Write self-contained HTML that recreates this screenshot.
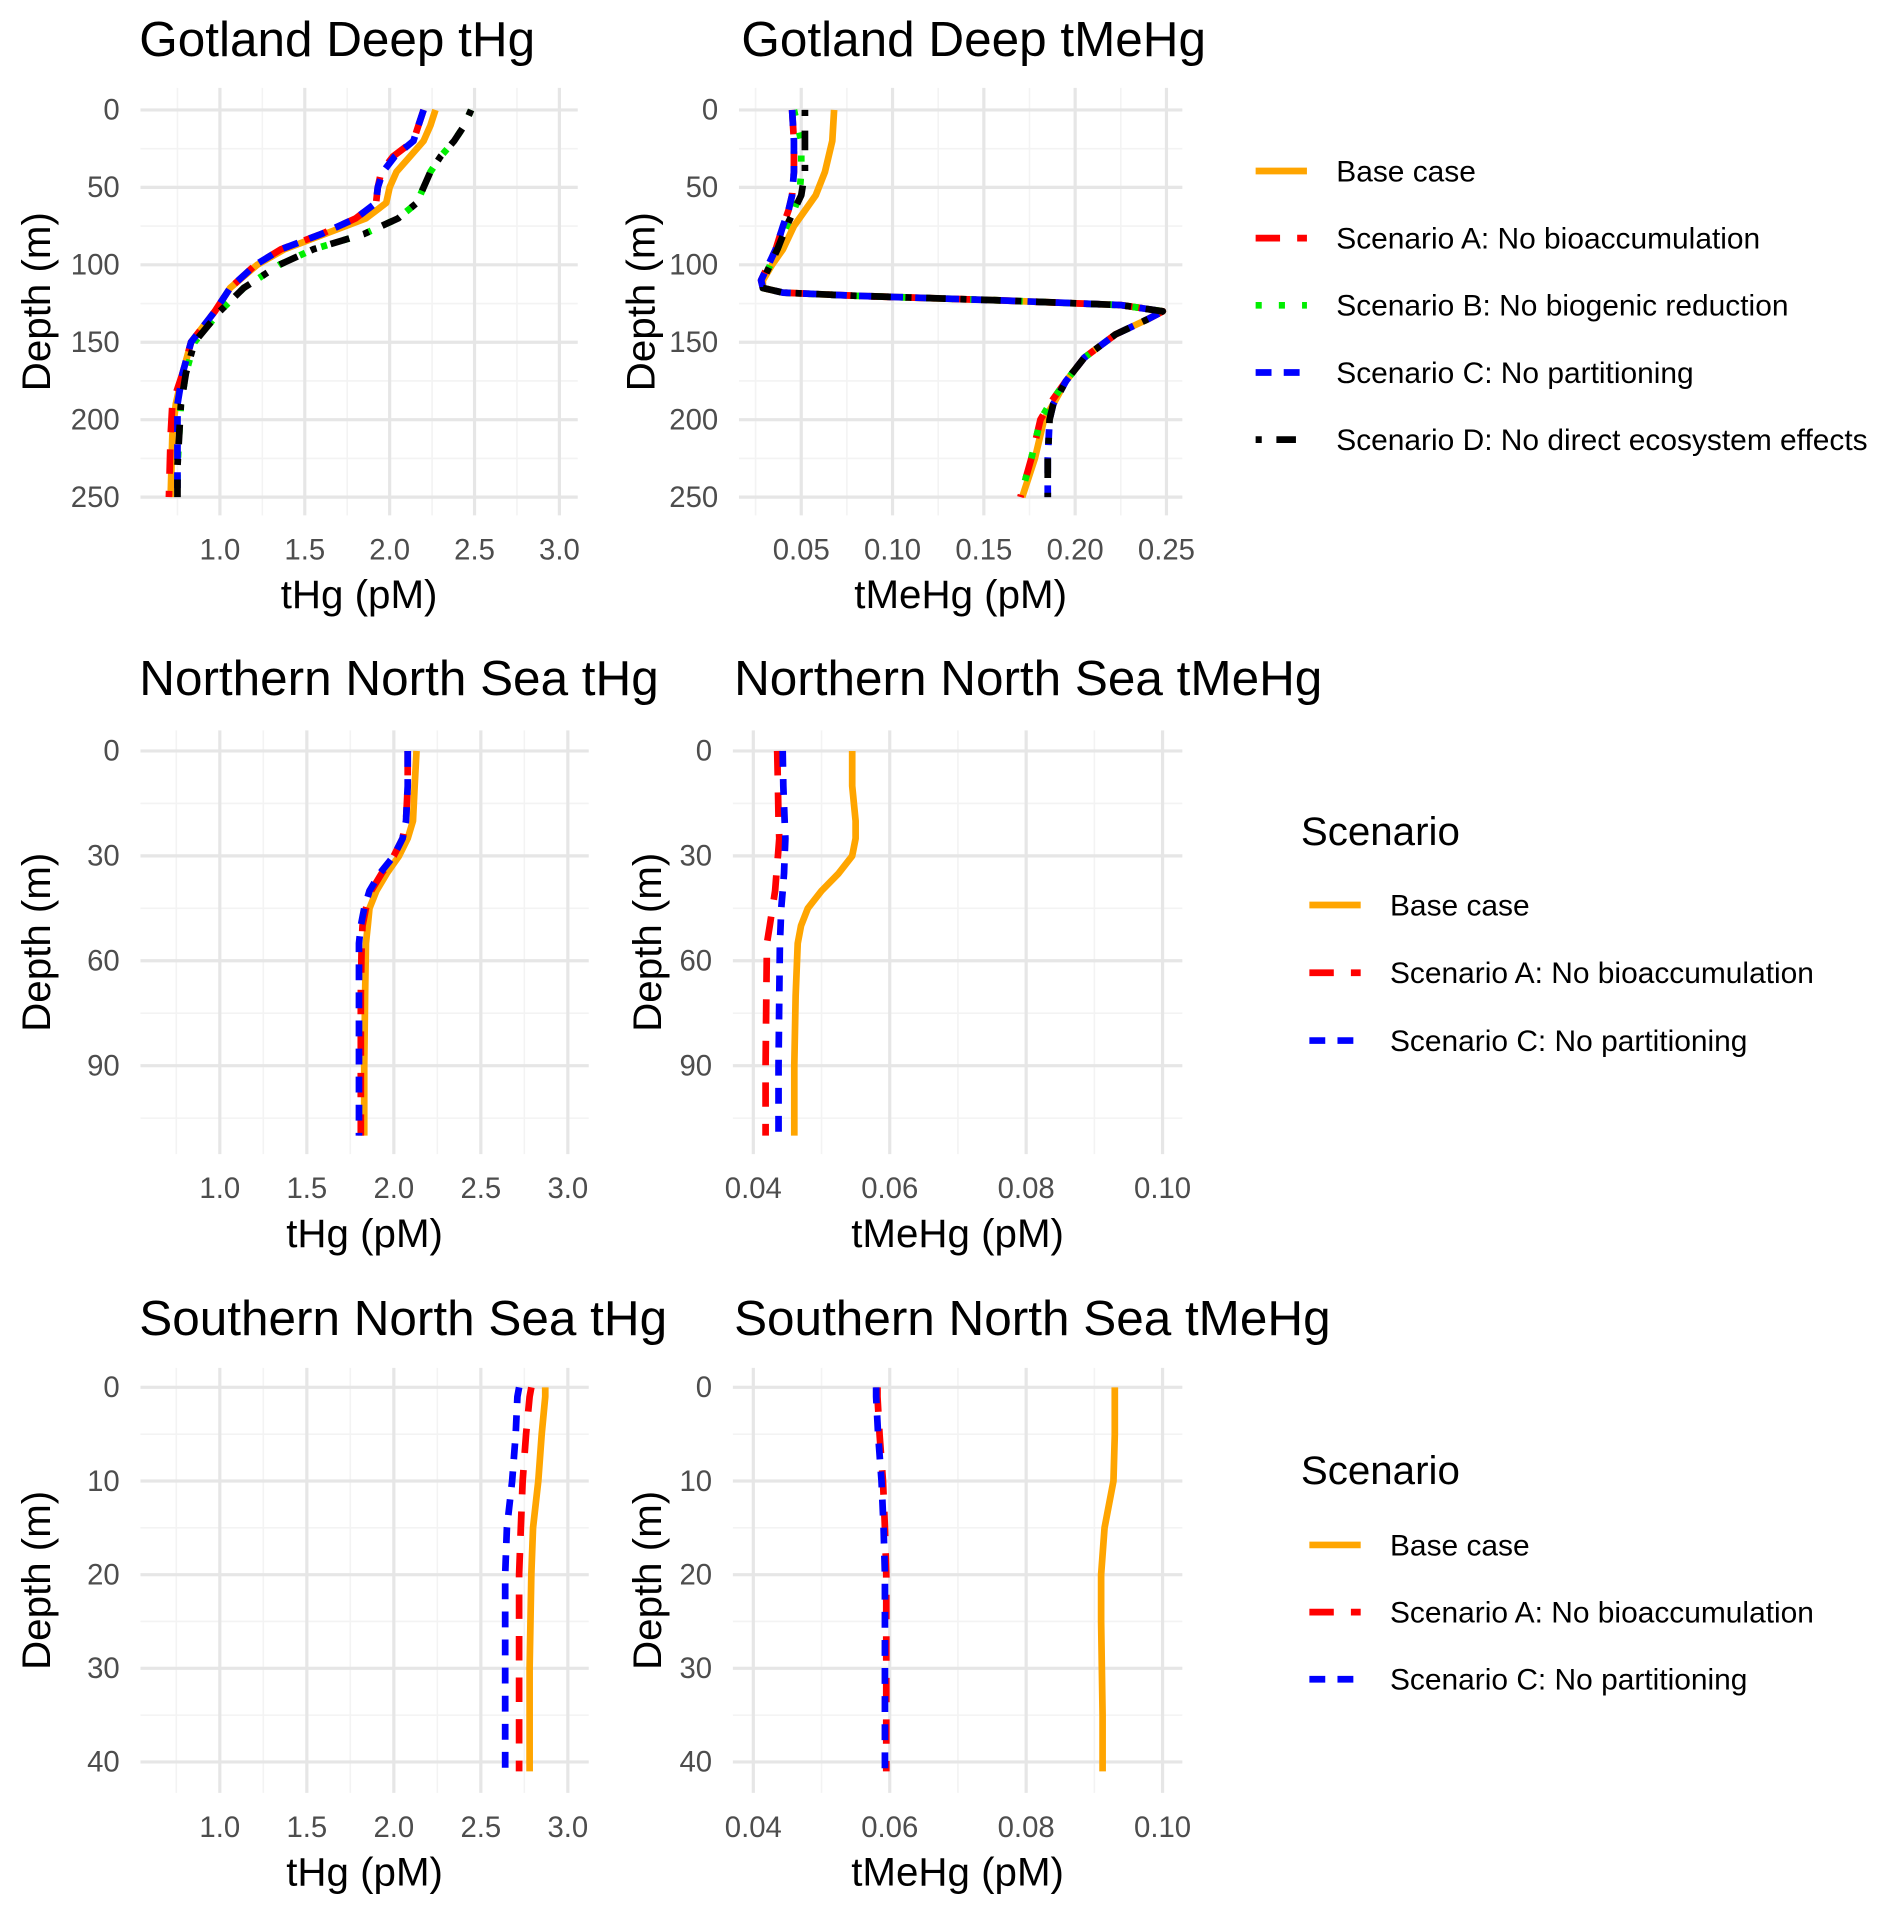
<!DOCTYPE html>
<html><head><meta charset="utf-8"><style>
html,body{margin:0;padding:0;background:#fff;}
svg{display:block;font-family:"Liberation Sans",Arial,sans-serif;}
</style></head><body>
<svg id="chart" width="1892" height="1915" viewBox="0 0 1549 1568" preserveAspectRatio="none" xmlns="http://www.w3.org/2000/svg"></svg>
<script>
// ---- data (depth in m, value in pM) ----
const gdTHgDepth = [0,10,20,30,40,50,60,70,80,90,100,115,130,150,170,190,210,230,250];
const gdTHgBase  = [2.27,2.24,2.2,2.12,2.04,2.0,1.98,1.86,1.62,1.38,1.22,1.06,0.97,0.83,0.78,0.74,0.72,0.715,0.71];
const gdTHgA     = [2.2,2.17,2.14,2.02,1.95,1.93,1.92,1.8,1.6,1.36,1.21,1.06,0.97,0.83,0.78,0.72,0.71,0.705,0.70];
const gdTHgB     = [2.48,2.44,2.38,2.3,2.24,2.2,2.16,2.05,1.85,1.55,1.35,1.14,1.0,0.85,0.8,0.77,0.76,0.75,0.75];
const gdTHgC     = [2.2,2.17,2.14,2.03,1.96,1.93,1.92,1.8,1.6,1.36,1.21,1.06,0.97,0.83,0.78,0.75,0.75,0.75,0.75];
const gdTHgD     = [2.48,2.44,2.38,2.3,2.24,2.2,2.16,2.05,1.85,1.55,1.35,1.14,1.0,0.85,0.8,0.77,0.76,0.75,0.75];

const gdMeDepth = [0,20,40,55,65,75,90,100,110,115,118,120,123,126,130,135,145,160,175,190,200,225,250];
const gdMeBase  = [0.068,0.067,0.063,0.058,0.052,0.046,0.04,0.034,0.029,0.029,0.04,0.08,0.16,0.225,0.248,0.24,0.222,0.205,0.195,0.188,0.183,0.178,0.171];
const gdMeA     = [0.045,0.046,0.046,0.045,0.043,0.04,0.036,0.032,0.028,0.029,0.04,0.08,0.16,0.225,0.248,0.24,0.222,0.205,0.195,0.186,0.181,0.176,0.170];
const gdMeB     = [0.046,0.05,0.05,0.049,0.046,0.042,0.037,0.033,0.029,0.029,0.04,0.08,0.16,0.225,0.248,0.24,0.222,0.205,0.195,0.186,0.181,0.176,0.170];
const gdMeC     = [0.045,0.046,0.046,0.045,0.043,0.04,0.036,0.032,0.028,0.029,0.04,0.08,0.16,0.225,0.248,0.24,0.222,0.205,0.195,0.188,0.186,0.185,0.185];
const gdMeD     = [0.052,0.052,0.052,0.05,0.046,0.042,0.037,0.033,0.029,0.029,0.04,0.08,0.16,0.225,0.248,0.24,0.222,0.205,0.195,0.188,0.186,0.185,0.185];

const nnsDepth    = [0,10,20,25,30,35,40,45,50,55,70,90,110];
const nnsTHgBase  = [2.13,2.12,2.11,2.08,2.03,1.96,1.9,1.86,1.85,1.84,1.835,1.83,1.83];
const nnsTHgA     = [2.08,2.08,2.07,2.05,2.0,1.93,1.87,1.84,1.82,1.815,1.81,1.81,1.81];
const nnsTHgC     = [2.08,2.08,2.07,2.05,2.0,1.92,1.86,1.83,1.81,1.8,1.8,1.8,1.8];
const nnsMeBase   = [0.0545,0.0545,0.055,0.055,0.0545,0.0525,0.05,0.048,0.047,0.0465,0.0462,0.046,0.046];
const nnsMeA      = [0.0435,0.0436,0.0437,0.0438,0.0436,0.0434,0.0432,0.0428,0.0424,0.042,0.0419,0.0418,0.0418];
const nnsMeC      = [0.0443,0.0444,0.0446,0.0447,0.0446,0.0445,0.0443,0.0441,0.044,0.0439,0.0438,0.0437,0.0437];

const snsDepth    = [0,1,5,10,15,20,25,30,35,41];
const snsTHgBase  = [2.87,2.87,2.85,2.83,2.8,2.79,2.785,2.78,2.78,2.78];
const snsTHgA     = [2.79,2.78,2.76,2.74,2.73,2.72,2.72,2.72,2.72,2.72];
const snsTHgC     = [2.72,2.71,2.7,2.68,2.65,2.64,2.64,2.64,2.64,2.64];
const snsMeBase   = [0.093,0.093,0.093,0.0928,0.0915,0.091,0.091,0.0911,0.0912,0.0912];
const snsMeA      = [0.0582,0.0582,0.0585,0.059,0.0593,0.0595,0.0595,0.0595,0.0595,0.0595];
const snsMeC      = [0.058,0.058,0.0583,0.0588,0.0591,0.0593,0.0593,0.0593,0.0593,0.0593];

const thgTicks = ["1.0","1.5","2.0","2.5","3.0"];
const meTicksGD = ["0.05","0.10","0.15","0.20","0.25"];
const meTicksNS = ["0.04","0.06","0.08","0.10"];

const NS='http://www.w3.org/2000/svg';
const svg=document.getElementById('chart');
function mk(tag,attrs,parent){const e=document.createElementNS(NS,tag);for(const k in attrs)e.setAttribute(k,attrs[k]);(parent||svg).appendChild(e);return e;}

const STY={
 base:{c:'#FFA500',d:null},
 A:{c:'#FF0000',d:'20 14'},
 B:{c:'#00EE00',d:'5 14'},
 C:{c:'#0000FF',d:'13 10'},
 D:{c:'#000000',d:'5 12 16 12'}
};

function panel(o){
 const g=mk('g',{});
 
 
 const sx=v=>o.px0+(v-o.xmin)/(o.xmax-o.xmin)*(o.px1-o.px0);
 const sy=d=>o.py0+(d-o.ymin)/(o.ymax-o.ymin)*(o.py1-o.py0);
 o.yMinor.forEach(d=>{const l=mk('line',{x1:o.px0,x2:o.px1,y1:sy(d),y2:sy(d),stroke:'#f3f3f3','stroke-width':1.3},g);});
 o.xMinor.forEach(v=>{const l=mk('line',{x1:sx(v),x2:sx(v),y1:o.py0,y2:o.py1,stroke:'#f3f3f3','stroke-width':1.3},g);});
 o.yTicks.forEach(d=>{const l=mk('line',{x1:o.px0,x2:o.px1,y1:sy(d),y2:sy(d),stroke:'#e6e6e6','stroke-width':2.6},g);
  const t=mk('text',{x:o.px0-17,y:sy(d)+8,'text-anchor':'end','font-size':24,fill:'#4d4d4d'},g);t.textContent=String(d);});
 o.xTicks.forEach(s=>{const v=parseFloat(s);const l=mk('line',{x1:sx(v),x2:sx(v),y1:o.py0,y2:o.py1,stroke:'#e6e6e6','stroke-width':2.6},g);
  const t=mk('text',{x:sx(v),y:o.py1+36,'text-anchor':'middle','font-size':24,fill:'#4d4d4d'},g);t.textContent=s;});
 o.series.forEach(s=>{
  const pts=s.v.map((v,i)=>sx(v).toFixed(1)+','+sy(o.depth[i]).toFixed(1)).join(' ');
  const a={points:pts,fill:'none',stroke:STY[s.k].c,'stroke-width':5.5,'stroke-linejoin':'round'};
  if(STY[s.k].d)a['stroke-dasharray']=STY[s.k].d;
  const p=mk('polyline',a,g);
  
  
 });
 const t=mk('text',{x:o.titleX,y:o.titleY,'font-size':40.5,fill:'#000'},g);t.textContent=o.title;
 
 const xt=mk('text',{x:(o.px0+o.px1)/2,y:o.py1+76,'text-anchor':'middle','font-size':33,fill:'#000'},g);xt.textContent=o.xlab;
 
 const cy=(o.py0+o.py1)/2;
 const yt=mk('text',{x:o.ylabX,y:cy,'text-anchor':'middle','font-size':33,fill:'#000',transform:'rotate(-90 '+o.ylabX+' '+cy+')'},g);yt.textContent='Depth (m)';
 
}

const thgMinor=[0.75,1.25,1.75,2.25,2.75];
panel({name:'gotland-thg-panel',title:'Gotland Deep tHg',titleX:114,titleY:46,xlab:'tHg (pM)',ylabX:41,
 px0:115,px1:473,py0:72,py1:422,xmin:0.532,xmax:3.108,ymin:-14.2,ymax:261.8,
 xTicks:thgTicks,xMinor:thgMinor,yTicks:[0,50,100,150,200,250],yMinor:[25,75,125,175,225],depth:gdTHgDepth,
 series:[{k:'base',v:gdTHgBase},{k:'A',v:gdTHgA},{k:'B',v:gdTHgB},{k:'C',v:gdTHgC},{k:'D',v:gdTHgD}]});
panel({name:'gotland-tmehg-panel',title:'Gotland Deep tMeHg',titleX:607,titleY:46,xlab:'tMeHg (pM)',ylabX:536,
 px0:605,px1:968,py0:72,py1:422,xmin:0.0159,xmax:0.2587,ymin:-14.2,ymax:261.8,
 xTicks:meTicksGD,xMinor:[0.025,0.075,0.125,0.175,0.225],yTicks:[0,50,100,150,200,250],yMinor:[25,75,125,175,225],depth:gdMeDepth,
 series:[{k:'base',v:gdMeBase},{k:'A',v:gdMeA},{k:'B',v:gdMeB},{k:'C',v:gdMeC},{k:'D',v:gdMeD}]});
panel({name:'nns-thg-panel',title:'Northern North Sea tHg',titleX:114,titleY:569,xlab:'tHg (pM)',ylabX:41,
 px0:115,px1:482,py0:598,py1:945,xmin:0.544,xmax:3.12,ymin:-5.9,ymax:115.3,
 xTicks:thgTicks,xMinor:thgMinor,yTicks:[0,30,60,90],yMinor:[15,45,75,105],depth:nnsDepth,
 series:[{k:'base',v:nnsTHgBase},{k:'A',v:nnsTHgA},{k:'C',v:nnsTHgC}]});
panel({name:'nns-tmehg-panel',title:'Northern North Sea tMeHg',titleX:601,titleY:569,xlab:'tMeHg (pM)',ylabX:541,
 px0:600,px1:968,py0:598,py1:945,xmin:0.037,xmax:0.1029,ymin:-5.9,ymax:115.3,
 xTicks:meTicksNS,xMinor:[0.05,0.07,0.09],yTicks:[0,30,60,90],yMinor:[15,45,75,105],depth:nnsDepth,
 series:[{k:'base',v:nnsMeBase},{k:'A',v:nnsMeA},{k:'C',v:nnsMeC}]});
panel({name:'sns-thg-panel',title:'Southern North Sea tHg',titleX:114,titleY:1093,xlab:'tHg (pM)',ylabX:41,
 px0:115,px1:482,py0:1120,py1:1468,xmin:0.544,xmax:3.12,ymin:-2.08,ymax:43.3,
 xTicks:thgTicks,xMinor:thgMinor,yTicks:[0,10,20,30,40],yMinor:[5,15,25,35],depth:snsDepth,
 series:[{k:'base',v:snsTHgBase},{k:'A',v:snsTHgA},{k:'C',v:snsTHgC}]});
panel({name:'sns-tmehg-panel',title:'Southern North Sea tMeHg',titleX:601,titleY:1093,xlab:'tMeHg (pM)',ylabX:541,
 px0:600,px1:968,py0:1120,py1:1468,xmin:0.037,xmax:0.1029,ymin:-2.08,ymax:43.3,
 xTicks:meTicksNS,xMinor:[0.05,0.07,0.09],yTicks:[0,10,20,30,40],yMinor:[5,15,25,35],depth:snsDepth,
 series:[{k:'base',v:snsMeBase},{k:'A',v:snsMeA},{k:'C',v:snsMeC}]});

const legendLabels={base:'Base case',A:'Scenario A: No bioaccumulation',B:'Scenario B: No biogenic reduction',C:'Scenario C: No partitioning',D:'Scenario D: No direct ecosystem effects'};
function legend(name,keys,kx,tx,y0,step,title,titleY){
 const g=mk('g',{});
 
 
 if(title){const t=mk('text',{x:kx-7,y:titleY,'font-size':33,fill:'#000'},g);t.textContent=title;}
 keys.forEach((k,i)=>{
  const y=y0+i*step;
  const a={x1:kx,x2:kx+42,y1:y,y2:y,stroke:STY[k].c,'stroke-width':5.5};
  if(STY[k].d)a['stroke-dasharray']=STY[k].d;
  const l=mk('line',a,g);
  const t=mk('text',{x:tx,y:y+8.5,'font-size':24.5,fill:'#000'},g);t.textContent=legendLabels[k];
  
 });
}
legend('legend-gotland',['base','A','B','C','D'],1028,1094,140,55,null,0);
legend('legend-nns',['base','A','C'],1072,1138,741,55.5,'Scenario',692);
legend('legend-sns',['base','A','C'],1072,1138,1265,55,'Scenario',1215);
</script>
</body></html>
